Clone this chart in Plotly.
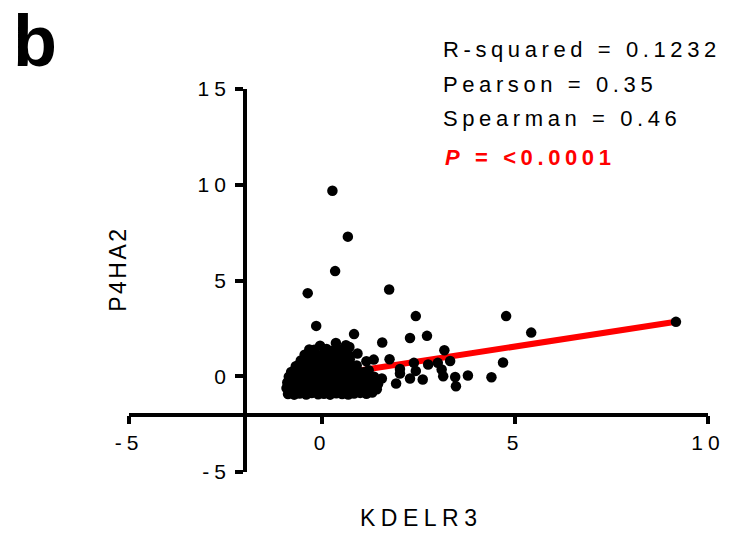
import plotly.graph_objects as go

# ---------------- data ----------------
# dense cluster near the origin
cluster_x = [
    -0.88, -0.72, -0.58, -0.41, -0.27, -0.10, 0.05, 0.21, 0.37, 0.52, 0.68, 0.83, 0.99, 1.15, 1.30,
    -0.92, -0.79, -0.63, -0.49, -0.33, -0.18, -0.02, 0.14, 0.29, 0.45, 0.61, 0.77, 0.94, 1.10, 1.26, 1.42,
    -0.90, -0.75, -0.60, -0.44, -0.30, -0.13, 0.02, 0.18, 0.33, 0.49, 0.65, 0.80, 0.96, 1.12, 1.28, 1.45,
    -0.86, -0.70, -0.55, -0.39, -0.22, -0.07, 0.09, 0.25, 0.40, 0.56, 0.72, 0.87, 1.03, 1.19, 1.35,
    -0.80, -0.64, -0.49, -0.33, -0.17, -0.01, 0.15, 0.31, 0.47, 0.62, 0.78, 0.93, 1.08,
    -0.68, -0.53, -0.37, -0.21, -0.05, 0.11, 0.27, 0.43, 0.59, 0.74, 0.90,
    -0.55, -0.40, -0.24, -0.08, 0.08, 0.24, 0.40, 0.56, 0.72,
    -0.45, -0.30, -0.12, 0.05, 0.20, 0.38, 0.55, 0.70,
    -0.20, 0.12, 0.30, 0.50,
]
cluster_y = [
    -0.93, -0.96, -0.90, -0.95, -0.88, -0.94, -0.91, -0.96, -0.89, -0.93, -0.95, -0.90, -0.87, -0.92, -0.85,
    -0.62, -0.70, -0.66, -0.60, -0.72, -0.64, -0.68, -0.58, -0.70, -0.63, -0.67, -0.60, -0.71, -0.65, -0.60, -0.68,
    -0.33, -0.40, -0.31, -0.38, -0.29, -0.36, -0.41, -0.30, -0.37, -0.34, -0.28, -0.39, -0.32, -0.36, -0.30, -0.42,
    -0.02, -0.08, 0.00, -0.10, -0.04, 0.03, -0.07, -0.01, -0.09, 0.02, -0.05, -0.10, 0.01, -0.06, -0.03,
    0.22, 0.30, 0.19, 0.27, 0.24, 0.31, 0.20, 0.28, 0.23, 0.30, 0.18, 0.26, 0.21,
    0.52, 0.58, 0.50, 0.60, 0.54, 0.49, 0.57, 0.53, 0.61, 0.50, 0.56,
    0.82, 0.88, 0.80, 0.90, 0.84, 0.79, 0.87, 0.83, 0.89,
    1.12, 1.20, 1.10, 1.18, 1.14, 1.08, 1.16, 1.10,
    1.38, 1.42, 1.35, 1.40,
]
# scattered points
spread_x = [
    0.27, 0.67, 0.34, -0.37, 1.74, 2.43, 4.77, 5.42, 9.17, -0.15,
    0.83, 2.28, 2.72, 1.56, 3.17, 3.32, 1.75, 2.38, 2.75, 3.00,
    4.69, 3.78, 4.39, 3.45, 3.47, 3.14, 2.61, 3.10, 2.02, 2.02,
    2.43, 2.28, 1.92, 1.55, 1.34, 1.15, 1.21, 0.92, 0.36, -0.05,
    -0.33, 0.71, 0.62, -0.61,
]
spread_y = [
    9.69, 7.29, 5.49, 4.34, 4.53, 3.14, 3.14, 2.28, 2.84, 2.63,
    2.20, 2.00, 2.11, 1.76, 1.36, 0.80, 0.89, 0.70, 0.61, 0.70,
    0.72, 0.04, -0.05, -0.04, -0.52, 0.00, -0.17, 0.35, 0.38, 0.14,
    0.28, -0.12, -0.38, -0.12, 0.87, 0.78, 0.31, 1.19, 1.74, 1.59,
    1.40, 1.53, 1.62, 0.59,
]
points_x = cluster_x + spread_x
points_y = cluster_y + spread_y

# linear regression line (slope / intercept)
fit_slope = 0.31
fit_intercept = 0.0
fit_x = [min(points_x), max(points_x)]
fit_y = [fit_slope * v + fit_intercept for v in fit_x]

x_ticks = [-5, 0, 5, 10]
x_tick_labels = ["-5", "0", "5", "10"]
y_ticks = [-5, 0, 5, 10, 15]
y_tick_labels = ["-5", "0", "5", "10", "15"]
x_label = "KDELR3"
y_label = "P4HA2"
panel_label = "b"
stats_lines = ["R-squared = 0.1232", "Pearson = 0.35", "Spearman = 0.46"]
p_text = "<b><i>P</i> = &lt;0.0001</b>"

FONT = "Arial, Liberation Sans, Helvetica, sans-serif"

fig = go.Figure()
fig.add_trace(go.Scatter(x=fit_x, y=fit_y, mode="lines",
                         line=dict(color="#ff0000", width=6), hoverinfo="skip",
                         showlegend=False))
fig.add_trace(go.Scatter(x=points_x, y=points_y, mode="markers",
                         marker=dict(color="black", size=10.5, line=dict(width=0)),
                         showlegend=False))

axis_common = dict(showgrid=False, zeroline=False, showline=True, linecolor="black",
                   linewidth=3.5, ticks="outside", ticklen=8, tickwidth=3.5,
                   tickcolor="black", tickfont=dict(family=FONT, size=21, color="black"))

fig.update_layout(
    width=739, height=535, autosize=False,
    margin=dict(l=129, r=31, t=89, b=63),
    paper_bgcolor="white", plot_bgcolor="white",
    font=dict(family=FONT, color="black"),
    xaxis=dict(range=[-5, 10], tickvals=x_ticks, ticktext=x_tick_labels,
               anchor="free", position=0.15, domain=[0, 1], **axis_common),
    yaxis=dict(range=[-5, 15], tickvals=y_ticks, ticktext=y_tick_labels,
               anchor="free", position=0.2, domain=[0, 1], **axis_common),
)

ann = []
stat_y = [1.1042, 1.0128, 0.9232]
for txt, yy in zip(stats_lines, stat_y):
    ann.append(dict(text=txt, x=0.539, y=yy, xref="paper", yref="paper",
                    xanchor="left", yanchor="middle", align="left", showarrow=False,
                    font=dict(family=FONT, size=22, color="black")))
ann.append(dict(text=p_text, x=0.5415, y=0.8214, xref="paper", yref="paper",
                xanchor="left", yanchor="middle", align="left", showarrow=False,
                font=dict(family=FONT, size=22, color="#ff0000")))
ann.append(dict(text=x_label, x=0.3955, y=-0.1201, xref="paper", yref="paper",
                xanchor="left", yanchor="middle", align="left", showarrow=False,
                font=dict(family=FONT, size=23, color="black")))
ann.append(dict(text=y_label, x=-0.0207, y=0.5287, xref="paper", yref="paper",
                xanchor="center", yanchor="middle", textangle=-90, showarrow=False,
                font=dict(family=FONT, size=23, color="black")))
ann.append(dict(text="<b>" + panel_label + "</b>", x=-0.202, y=472 / 383, xref="paper", yref="paper",
                xanchor="left", yanchor="top", align="left", showarrow=False, borderpad=0,
                font=dict(family=FONT, size=72, color="black")))
fig.update_layout(annotations=ann)

post = """
var gd = document.getElementById('{plot_id}');
function setLS(sel, v) { gd.querySelectorAll(sel).forEach(function(e){ e.style.letterSpacing = v; }); }
function apply() {
  [0,1,2,3].forEach(function(i){ setLS('.annotation[data-index="' + i + '"] .annotation-text', '4.6px'); });
  setLS('.annotation[data-index="4"] .annotation-text', '5.5px');
  setLS('.annotation[data-index="5"] .annotation-text', '2.5px');
  setLS('.xtick text', '5px');
  setLS('.ytick text', '5px');
}
apply();
gd.on('plotly_afterplot', apply);
"""
fig.write_html("out.html", post_script=post)
